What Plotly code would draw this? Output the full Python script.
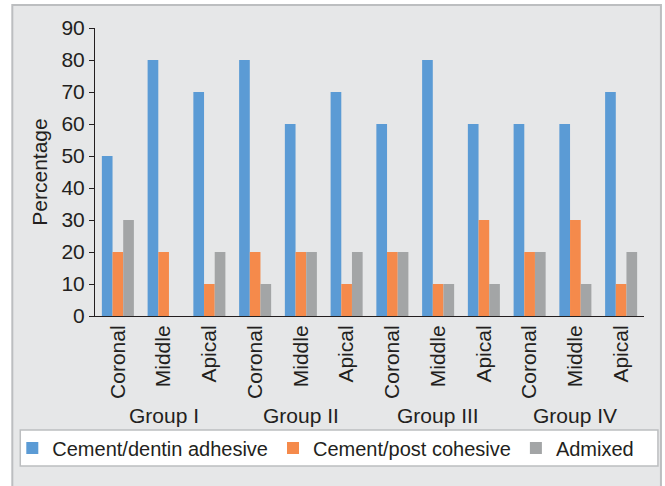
import plotly.graph_objects as go

groups = ["Group I", "Group II", "Group III", "Group IV"]
regions = ["Coronal", "Middle", "Apical"]
adhesive = [50, 80, 70, 80, 60, 70, 60, 80, 60, 60, 60, 70]
cohesive = [20, 20, 10, 20, 20, 10, 20, 10, 30, 20, 30, 10]
admixed = [30, 0, 20, 10, 20, 20, 20, 10, 10, 20, 10, 20]
series_names = ["Cement/dentin adhesive", "Cement/post cohesive", "Admixed"]
colors = ["#5B9BD5", "#F58A4B", "#A3A5A6"]

cats = [f"{g} | {r}" for g in groups for r in regions]
cat_text = [r for _ in groups for r in regions]

W, H = 665, 486
L, R, T, B = 93, 644, 28, 316
FONT = "Liberation Sans, Arial, sans-serif"
TXT = "#231F20"

def px(x):
    return (x - L) / (R - L)

def py(y):
    return (B - y) / (B - T)

fig = go.Figure()
for name, vals, c in zip(series_names, [adhesive, cohesive, admixed], colors):
    fig.add_trace(go.Bar(x=cats, y=vals, name=name, marker=dict(color=c, line=dict(width=0))))

for g in groups:
    fig.add_annotation(x=f"{g} | {regions[1]}", xref="x", y=py(415), yref="paper",
                       text=g, showarrow=False, xanchor="center", yanchor="middle",
                       font=dict(size=21, color=TXT, family=FONT))

fig.update_layout(
    width=W, height=H,
    margin=dict(l=L, r=W - R, t=T, b=H - B),
    paper_bgcolor="white",
    plot_bgcolor="white",
    barmode="group",
    bargap=0.3,
    bargroupgap=0,
    font=dict(family=FONT, size=21, color=TXT),
    showlegend=True,
    legend=dict(orientation="h", x=px(10), xanchor="left", y=py(448), yanchor="middle",
                bgcolor="rgba(0,0,0,0)", borderwidth=0, font=dict(size=20, color=TXT),
                traceorder="normal"),
    shapes=[
        dict(type="rect", xref="paper", yref="paper", x0=px(10), x1=px(661), y0=py(5), y1=py(495),
             fillcolor="#E6E7E8", line=dict(color="#BCBEC0", width=2), layer="below"),
        dict(type="rect", xref="paper", yref="paper", x0=px(18), x1=px(658), y0=py(430), y1=py(466),
             fillcolor="white", line=dict(color="#BCBEC0", width=1.5), layer="below"),
    ],
)
fig.update_yaxes(range=[0, 90], dtick=10, tick0=0, ticks="outside", ticklen=5, tickwidth=1,
                 tickcolor=TXT, showline=True, linecolor=TXT, linewidth=1, showgrid=False,
                 zeroline=False, tickfont=dict(size=21, color=TXT),
                 title=dict(text="Percentage", font=dict(size=21, color=TXT), standoff=8))
fig.update_xaxes(type="category", tickvals=cats, ticktext=cat_text, showline=True,
                 linecolor=TXT, linewidth=1, ticks="", showgrid=False, tickangle=-90,
                 tickfont=dict(size=21, color=TXT))

fig.write_html("out.html", config={"displayModeBar": False},
               post_script="document.body.style.margin='0';")
